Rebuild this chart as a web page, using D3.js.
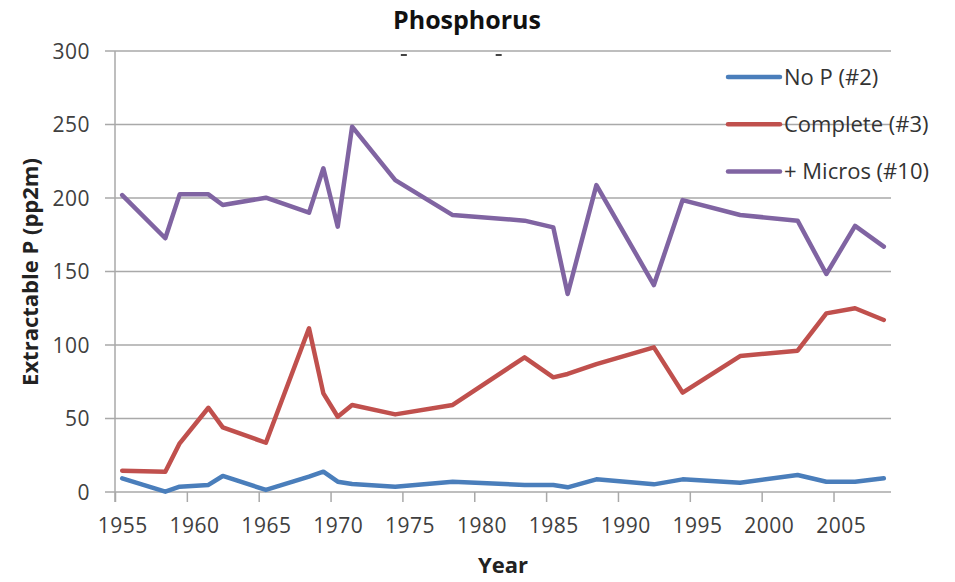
<!DOCTYPE html>
<html>
<head>
<meta charset="utf-8">
<script src="https://cdn.jsdelivr.net/npm/d3@7"></script>
<style>
  body { margin: 0; background: #fff; }
  text { font-family: 'Open Sans', 'Liberation Sans', Arial, sans-serif; }
</style>
</head>
<body>
<div id="chart"></div>
<script>
// data
var years = [1955, 1958, 1959, 1961, 1962, 1965, 1968, 1969, 1970, 1971, 1974, 1978,
             1983, 1985, 1986, 1988, 1992, 1994, 1998, 2002, 2004, 2006, 2008];

var noP = [9.3, 0.2, 3.6, 4.8, 10.9, 1.4, 10.4, 13.8, 7, 5.4, 3.6, 7,
           4.8, 4.8, 3.2, 8.6, 5.2, 8.6, 6.3, 11.6, 7, 7, 9.3];

var complete = [14.5, 13.8, 33.1, 57.3, 44, 33.5, 111.4, 67.1, 51.2, 59.2, 52.8, 59.2,
                91.6, 78, 80.3, 87, 98.4, 67.6, 92.5, 96.1, 121.5, 125, 117];

var micros = [202, 172.6, 202.5, 202.5, 195.2, 200.2, 190, 220.2, 180.5, 248.5, 212.2, 188.4,
              184.6, 180, 134.7, 208.8, 140.8, 198.6, 188.4, 184.6, 148.3, 181, 166.9];

var seriesNames = ['No P (#2)', 'Complete (#3)', '+ Micros (#10)'];
var seriesColors = ['#4a7ebb', '#c0504d', '#8064a2'];
var yTicks = [0, 50, 100, 150, 200, 250, 300];
var xLabels = [1955, 1960, 1965, 1970, 1975, 1980, 1985, 1990, 1995, 2000, 2005];

var width = 955, height = 582;

var svg = d3.select('#chart')
  .append('svg')
  .attr('width', width)
  .attr('height', height);

// scales - the category ticks sit half a year left of each label
var x = d3.scaleLinear().domain([1954.5, 2008.5]).range([115, 891]);
var y = d3.scaleLinear().domain([0, 300]).range([492, 51]);
var tickShift = x(1954.5) - x(1955);

// gridlines
svg.append('g')
  .selectAll('line')
  .data(yTicks)
  .enter()
  .append('line')
  .attr('x1', 105)
  .attr('x2', x(2008.5))
  .attr('y1', function(d) { return y(d); })
  .attr('y2', function(d) { return y(d); })
  .attr('stroke', '#a9a9a9')
  .attr('stroke-width', 1.5);

// y axis line
svg.append('line')
  .attr('x1', x(1954.5)).attr('x2', x(1954.5))
  .attr('y1', y(300)).attr('y2', y(0) + 10)
  .attr('stroke', '#a9a9a9')
  .attr('stroke-width', 1.5);

// y tick labels
svg.append('g')
  .selectAll('text')
  .data(yTicks)
  .enter()
  .append('text')
  .text(function(d) { return d; })
  .attr('x', 90)
  .attr('y', function(d) { return y(d); })
  .attr('dy', '0.36em')
  .attr('text-anchor', 'end')
  .attr('font-size', '21px')
  .attr('letter-spacing', '0.5px')
  .attr('fill', '#404040');

// x axis ticks + labels
var xAxis = d3.axisBottom(x)
  .tickValues(xLabels)
  .tickSize(10)
  .tickPadding(16)
  .tickFormat(d3.format('d'));

var gx = svg.append('g')
  .attr('transform', 'translate(0,' + y(0) + ')')
  .call(xAxis);

gx.select('.domain').remove();
gx.selectAll('.tick line')
  .attr('transform', 'translate(' + tickShift + ',0)')
  .attr('stroke', '#a9a9a9')
  .attr('stroke-width', 1.5);
gx.selectAll('.tick text')
  .attr('font-size', '21px')
  .attr('letter-spacing', '0.5px')
  .attr('font-family', "'Open Sans', 'Liberation Sans', Arial, sans-serif")
  .attr('fill', '#404040');

// lines
var allSeries = [noP, complete, micros];

var line = d3.line()
  .x(function(d, i) { return x(years[i]); })
  .y(function(d) { return y(d); });

svg.append('g')
  .selectAll('path')
  .data(allSeries)
  .enter()
  .append('path')
  .attr('d', function(d) { return line(d); })
  .attr('fill', 'none')
  .attr('stroke', function(d, i) { return seriesColors[i]; })
  .attr('stroke-width', 4.5)
  .attr('stroke-linejoin', 'round')
  .attr('stroke-linecap', 'round');

// legend
var legend = svg.append('g')
  .selectAll('g')
  .data(seriesNames)
  .enter()
  .append('g')
  .attr('transform', function(d, i) { return 'translate(728,' + (77 + i * 47.2) + ')'; });

legend.append('line')
  .attr('x1', 0).attr('x2', 52)
  .attr('stroke', function(d, i) { return seriesColors[i]; })
  .attr('stroke-width', 4.5)
  .attr('stroke-linecap', 'round');

legend.append('text')
  .text(function(d) { return d; })
  .attr('x', 56)
  .attr('dy', '0.36em')
  .attr('font-size', '22px')
  .attr('fill', '#333');

// title
svg.append('text')
  .text('Phosphorus')
  .attr('x', 467)
  .attr('y', 29)
  .attr('text-anchor', 'middle')
  .attr('font-family', "'Liberation Sans', Arial, sans-serif")
  .attr('font-weight', 'bold')
  .attr('font-size', '25px')
  .attr('fill', '#111');

// little leftover marks under the top gridline
svg.append('g')
  .selectAll('rect')
  .data([1974.6, 1981.2])
  .enter()
  .append('rect')
  .attr('x', function(d) { return x(d) - 3; })
  .attr('y', 54)
  .attr('width', 6)
  .attr('height', 2)
  .attr('fill', '#444');

// axis titles
svg.append('text')
  .text('Year')
  .attr('x', 503)
  .attr('y', 573)
  .attr('text-anchor', 'middle')
  .attr('font-family', "'Liberation Sans', Arial, sans-serif")
  .attr('font-weight', 'bold')
  .attr('font-size', '22px')
  .attr('fill', '#222');

svg.append('text')
  .text('Extractable P (pp2m)')
  .attr('transform', 'translate(38,272) rotate(-90)')
  .attr('text-anchor', 'middle')
  .attr('font-family', "'Liberation Sans', Arial, sans-serif")
  .attr('font-weight', 'bold')
  .attr('font-size', '22px')
  .attr('fill', '#222');
</script>
</body>
</html>
